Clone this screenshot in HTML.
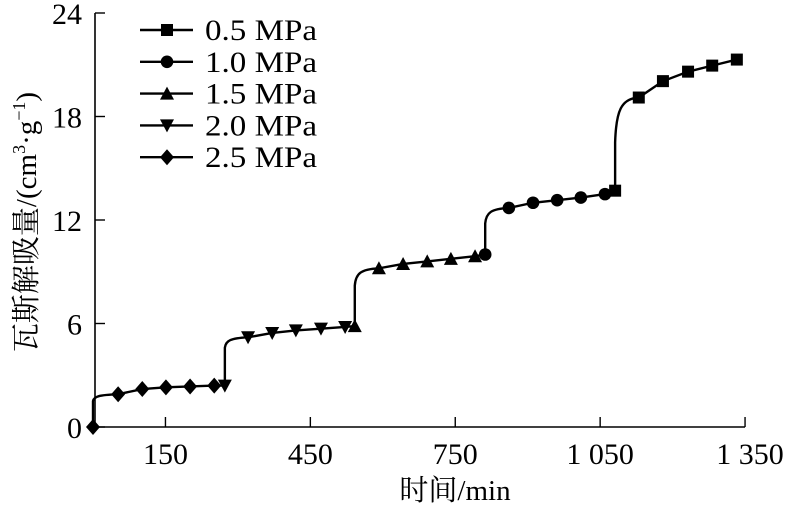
<!DOCTYPE html>
<html><head><meta charset="utf-8"><style>
body{margin:0;background:#fff}
svg{display:block;font-family:"Liberation Serif","Noto Serif CJK SC",serif}
</style></head><body>
<svg width="788" height="510" viewBox="0 0 788 510">
<g id="axes"></g>
<g id="series"></g>
<g id="legend"></g>
<text x="455" y="500" font-size="29" text-anchor="middle" font-family="Liberation Serif, Noto Serif CJK SC, serif">时间/min</text>
<text transform="translate(36,222) rotate(-90)" font-size="29" text-anchor="middle">瓦斯解吸量/(cm<tspan font-size="18" dy="-11">3</tspan><tspan dy="11">·g</tspan><tspan font-size="18" dy="-11">−1</tspan><tspan dy="11">)</tspan></text>
</svg>
<script>
const xTicks=[150,450,750,1050,1350];
const xTickLabels=["150","450","750","1 050","1 350"];
const yTicks=[0,6,12,18,24];
const seriesNames=["0.5 MPa","1.0 MPa","1.5 MPa","2.0 MPa","2.5 MPa"];
const seriesMarkers=["square","circle","up","down","diamond"];
const startT25=0, startV25=0, knee25=1.5;
const t25=[52,102,151,201,251], v25=[1.9,2.2,2.3,2.35,2.4];
const startT20=273, startV20=2.4, knee20=4.6;
const t20=[321,371,420,472,522], v20=[5.2,5.45,5.6,5.7,5.8];
const startT15=542, startV15=5.85, knee15=8.2;
const t15=[592,642,692,741,791], v15=[9.2,9.45,9.6,9.75,9.9];
const startT10=812, startV10=10.0, knee10=11.8;
const t10=[861,911,961,1010,1060], v10=[12.7,13.0,13.15,13.3,13.5];
const startT05=1081, startV05=13.7, knee05=16.5;
const t05=[1130,1180,1232,1282,1333], v05=[19.1,20.05,20.6,20.95,21.3];

const NS="http://www.w3.org/2000/svg";
const X0=93,XS=0.483,Y0=427,YS=17.25;
const sx=t=>X0+t*XS, sy=v=>Y0-v*YS;
function mk(tag,attrs,parent){const e=document.createElementNS(NS,tag);for(const k in attrs)e.setAttribute(k,attrs[k]);parent.appendChild(e);return e;}
const axes=document.getElementById('axes');
let e=mk('line',{x1:95,y1:sy(0),x2:95,y2:sy(24),stroke:'#000','stroke-width':1.6},axes);

e=mk('line',{x1:95,y1:sy(0),x2:sx(1350),y2:sy(0),stroke:'#000','stroke-width':1.6},axes);

xTicks.forEach((t,i)=>{
 let l=mk('line',{x1:sx(t),x2:sx(t),y1:Y0,y2:Y0-10,stroke:'#000','stroke-width':1.4},axes);
 
 let tx=mk('text',{x:sx(t)+(i==4?5:0),y:Y0+37,'font-size':30,'text-anchor':'middle'},axes);tx.textContent=xTickLabels[i];
 
});
yTicks.forEach(v=>{
 let l=mk('line',{x1:95,x2:105,y1:sy(v),y2:sy(v),stroke:'#000','stroke-width':1.4},axes);
 
 let tx=mk('text',{x:82,y:sy(v)+11,'font-size':30,'text-anchor':'end'},axes);tx.textContent=String(v);
 
});
function marker(type,x,y,parent){
 let m;
 if(type==='square')m=mk('rect',{x:x-6,y:y-6,width:12,height:12},parent);
 else if(type==='circle')m=mk('circle',{cx:x,cy:y,r:6.3},parent);
 else if(type==='up')m=mk('polygon',{points:`${x},${y-7} ${x-7},${y+6} ${x+7},${y+6}`},parent);
 else if(type==='down')m=mk('polygon',{points:`${x},${y+7} ${x-7},${y-6} ${x+7},${y-6}`},parent);
 else m=mk('polygon',{points:`${x},${y-8} ${x+7},${y} ${x},${y+8} ${x-7},${y}`},parent);
 m.setAttribute('fill','#000');return m;
}
const stages=[
 [startT25,startV25,knee25,t25,v25,'diamond','2.5 MPa'],
 [startT20,startV20,knee20,t20,v20,'down','2.0 MPa'],
 [startT15,startV15,knee15,t15,v15,'up','1.5 MPa'],
 [startT10,startV10,knee10,t10,v10,'circle','1.0 MPa'],
 [startT05,startV05,knee05,t05,v05,'square','0.5 MPa']];
const sg=document.getElementById('series');
stages.forEach((s,si)=>{
 const [st,sv,kv,ts,vs,type,name]=s;
 const g=mk('g',{},sg);
 
 
 let d=`M${sx(st)},${sy(sv)} L${sx(st)},${sy(kv)} C${sx(st)+1},${sy(kv+(vs[0]-kv)*0.7)} ${sx(st)+6},${sy(vs[0]-0.05)} ${sx(ts[0])},${sy(vs[0])}`;
 for(let i=1;i<ts.length;i++)d+=` L${sx(ts[i])},${sy(vs[i])}`;
 if(si<stages.length-1){const n=stages[si+1];d+=` L${sx(n[0])},${sy(n[1])}`;}
 let p=mk('path',{d:d,fill:'none',stroke:'#000','stroke-width':2.4},g);
 
 let m0=marker(type,sx(st),sy(sv),g);
 
 ts.forEach((t,i)=>{let m=marker(type,sx(t),sy(vs[i]),g);
  });
});
const lg=document.getElementById('legend');
seriesNames.forEach((n,i)=>{
 const y=30+i*31.8;
 const g=mk('g',{},lg);
 
 mk('line',{x1:140,x2:193,y1:y,y2:y,stroke:'#000','stroke-width':2.4},g);
 marker(seriesMarkers[i],167,y,g);
 let t=mk('text',{x:205,y:y+10,'font-size':30,textLength:112,lengthAdjust:'spacingAndGlyphs'},g);t.textContent=n;
});
</script>
</body></html>
